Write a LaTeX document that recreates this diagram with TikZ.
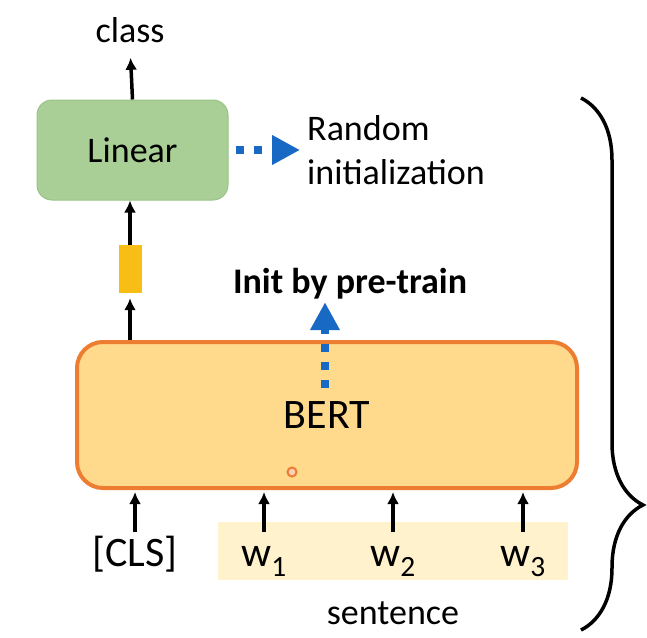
\documentclass[tikz,border=0pt]{standalone}
\usepackage{fontspec}
\setmainfont{Carlito}
\usetikzlibrary{arrows, arrows.meta, positioning, decorations.pathreplacing}

\definecolor{lingreen}{HTML}{A9CF97}
\definecolor{lingreenline}{HTML}{98C486}
\definecolor{bertfill}{HTML}{FFD98C}
\definecolor{bertline}{HTML}{ED7D31}
\definecolor{vecgold}{HTML}{F9BE16}
\definecolor{sentband}{HTML}{FFF2CC}
\definecolor{initblue}{HTML}{1769C4}

\begin{document}
\begin{tikzpicture}[x=1pt, y=-1pt,
    txt/.style={font=\fontsize{36}{44}\selectfont},
    big/.style={font=\fontsize{42}{50}\selectfont},
    arr/.style={-{Latex[length=12pt,width=12pt]}, line width=3.5pt},
    blue arr/.style={-{Triangle[length=28pt,width=28pt]}, draw=initblue, line width=8pt, dash pattern=on 8pt off 10pt}]
        \useasboundingbox (0,0) rectangle (647,637);

        % sentence band behind the words
        \node[fill=sentband, minimum width=350pt, minimum height=58pt] (band) at (393,551) {};

        \node[draw=lingreenline, fill=lingreen, line width=1pt, rounded corners=15pt, minimum width=191pt, minimum height=100pt, txt] (Linear) at (132.5,150) {Linear};
        \node[txt, anchor=base] (class) at (130,42) {class};
        \node[fill=vecgold, inner sep=0pt, minimum width=23pt, minimum height=48pt] (vec) at (130,269) {};
        \node[draw=bertline, fill=bertfill, line width=4pt, rounded corners=26pt, minimum width=500pt, minimum height=146pt, big] (BERT) at (327,415) {BERT};
        \node[circle, draw=bertline, fill=bertline!35, line width=2pt, inner sep=0pt, minimum size=9pt] (dot) at (292,472) {};

        \node[txt, anchor=west, align=left, inner sep=0pt] (Rand) at (307,150) {Random\\initialization};
        \node[txt, anchor=base, font=\fontsize{36}{44}\selectfont\bfseries] (Init) at (350,293) {Init by pre-train};

        \node[big, anchor=base, text height=30pt] (CLS) at (135,566) {[CLS]};
        \node[big, anchor=base, text height=30pt] (W1) at (264,566) {w\textsubscript{1}};
        \node[big, anchor=base, text height=30pt] (W2) at (393,566) {w\textsubscript{2}};
        \node[big, anchor=base, text height=30pt] (W3) at (523,566) {w\textsubscript{3}};
        \node[txt, anchor=base] (sent) at (393,624) {sentence};

        \path[arr] (Linear.north) edge[shorten >=12pt] (class.south);
        \path[arr] (vec.north) edge (vec.north |- Linear.south);
        \path[arr] (vec.south |- BERT.north) edge[shorten >=5pt] (vec.south);
        \path[arr] (CLS.north) edge[shorten >=2pt] (CLS.north |- BERT.south);
        \path[arr] (W1.north) edge[shorten >=2pt] (W1.north |- BERT.south);
        \path[arr] (W2.north) edge[shorten >=2pt] (W2.north |- BERT.south);
        \path[arr] (W3.north) edge[shorten >=2pt] (W3.north |- BERT.south);

        \coordinate (initsrc) at (325,388);
        \draw[blue arr] (initsrc) -- (Init.south -| initsrc);
        \draw[blue arr, shorten <=7pt, shorten >=7pt] (Linear.east) -- (Rand.west |- Linear.east);

        \coordinate (brtop) at (581,98);
        \coordinate (brbot) at (581,630);
        \draw[decorate, decoration={brace, amplitude=62pt, aspect=0.765}, line width=3.5pt] (brtop) -- (brbot);
    \end{tikzpicture}
\end{document}
